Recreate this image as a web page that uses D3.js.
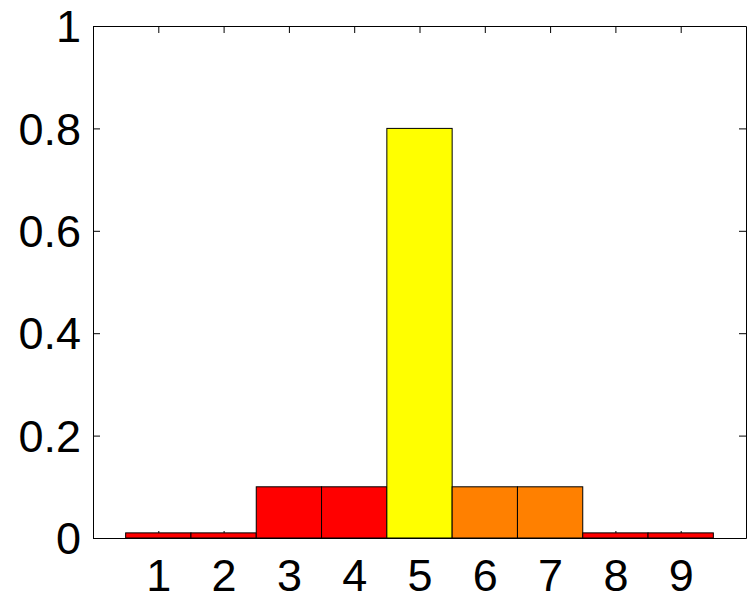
<!DOCTYPE html>
<html>
<head>
<meta charset="utf-8">
<script src="https://cdn.jsdelivr.net/npm/d3@7"></script>
<style>
  body { margin: 0; background: #fff; }
  text { font-family: "Liberation Sans", Arial, sans-serif; }
</style>
</head>
<body>
<div class="chart"></div>
<script>
var svgWidth = 747;
var svgHeight = 600;

var margin = { top: 26, right: 1, bottom: 62, left: 93 };

var width = svgWidth - margin.left - margin.right;
var height = svgHeight - margin.top - margin.bottom;

// data
var categories = [1, 2, 3, 4, 5, 6, 7, 8, 9];
var values = [0.01, 0.01, 0.1, 0.1, 0.8, 0.1, 0.1, 0.01, 0.01];
var barColors = ["#ff0000", "#ff0000", "#ff0000", "#ff0000", "#ffff00",
                 "#ff8000", "#ff8000", "#ff0000", "#ff0000"];
var yTicks = [0, 0.2, 0.4, 0.6, 0.8, 1];
var yTickLabels = ["0", "0.2", "0.4", "0.6", "0.8", "1"];

var svg = d3.select(".chart")
    .append("svg")
    .attr("width", svgWidth)
    .attr("height", svgHeight);

var chartGroup = svg.append("g")
    .attr("transform", `translate(${margin.left}, ${margin.top})`);

var xScale = d3.scaleLinear().domain([0, 10]).range([0, width]);
var yScale = d3.scaleLinear().domain([0, 1]).range([height, 0]);

// box-style axes, ticks inward (drawn first so bars cover the ticks)
var tickLen = 7;

var bottomAxis = d3.axisBottom(xScale).tickValues(categories)
    .tickSizeInner(-tickLen).tickSizeOuter(0).tickPadding(20);
var topAxis = d3.axisTop(xScale).tickValues(categories)
    .tickSizeInner(-tickLen).tickSizeOuter(0).tickFormat("");
var leftAxis = d3.axisLeft(yScale).tickValues(yTicks)
    .tickSizeInner(-tickLen).tickSizeOuter(0).tickPadding(12)
    .tickFormat((d, i) => yTickLabels[i]);
var rightAxis = d3.axisRight(yScale).tickValues(yTicks)
    .tickSizeInner(-tickLen).tickSizeOuter(0).tickFormat("");

var xAxisG = chartGroup.append("g")
    .attr("transform", `translate(0, ${height})`)
    .call(bottomAxis);
chartGroup.append("g").call(topAxis);
var yAxisG = chartGroup.append("g").call(leftAxis);
chartGroup.append("g")
    .attr("transform", `translate(${width}, 0)`)
    .call(rightAxis);

chartGroup.selectAll(".domain, .tick line")
    .attr("stroke", "black")
    .attr("stroke-width", 1);

xAxisG.selectAll("text")
    .attr("font-size", "45px")
    .attr("fill", "black")
    .attr("dy", "0.71em")
    .attr("y", 21);

yAxisG.selectAll("text")
    .attr("font-size", "45px")
    .attr("fill", "black")
    .attr("dy", "0.35em");

// bars
chartGroup.selectAll("rect.bar")
    .data(values)
    .enter()
    .append("rect")
    .attr("class", "bar")
    .attr("x", (d, i) => xScale(categories[i] - 0.5))
    .attr("width", (d, i) => xScale(categories[i] + 0.5) - xScale(categories[i] - 0.5))
    .attr("y", d => yScale(d))
    .attr("height", d => yScale(0) - yScale(d))
    .attr("fill", (d, i) => barColors[i])
    .attr("stroke", "black")
    .attr("stroke-width", 1);
</script>
</body>
</html>
